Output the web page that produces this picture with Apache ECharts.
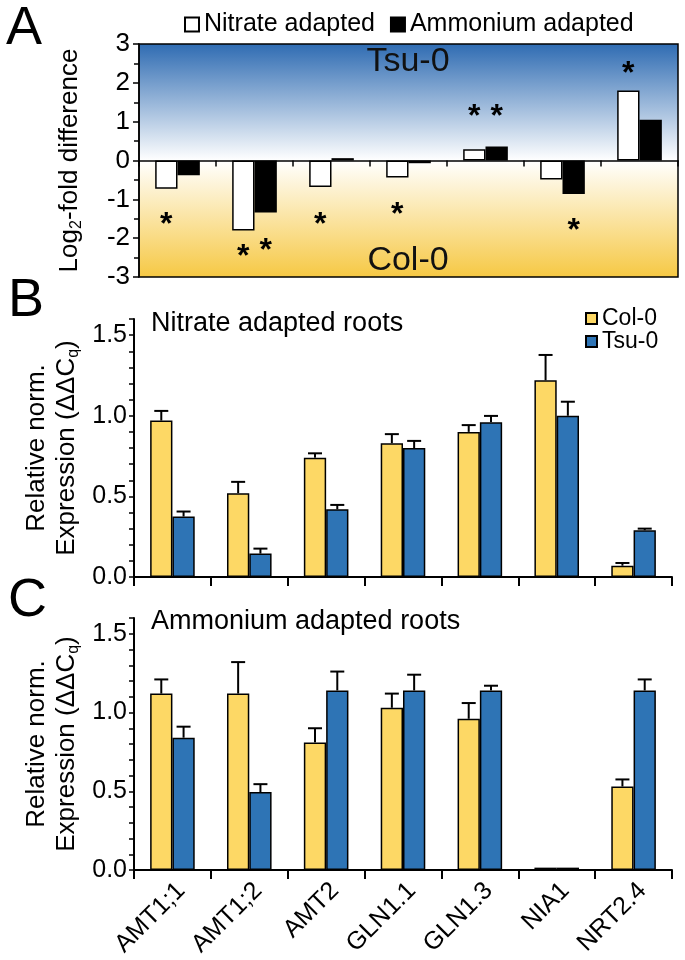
<!DOCTYPE html>
<html><head><meta charset="utf-8">
<script src="https://cdn.jsdelivr.net/npm/echarts@6/dist/echarts.min.js"></script>
<style>html,body{margin:0;padding:0;background:#fff}#c{width:685px;height:960px}</style>
</head><body><div id="c"></div>
<script>
// ---- data ----
const genes = ['AMT1;1','AMT1;2','AMT2','GLN1.1','GLN1.3','NIA1','NRT2.4'];
// Panel A: log2-fold difference (Tsu-0 vs Col-0)
const logNitrate   = [-0.73, -1.80, -0.68, -0.44, 0.29, -0.49, 1.80];
const logAmmonium  = [-0.38, -1.34, 0.06, -0.07, 0.36, -0.86, 1.05];
// asterisk positions (significance marks)
const starNitrate  = [-1.47, -2.28, -1.45, -1.19, 1.31, null, 2.43];
const starAmmonium = [null, -2.12, null, null, 1.31, -1.62, null];
// Panel B: nitrate adapted roots
const nitCol    = [0.97, 0.52, 0.74, 0.83, 0.90, 1.22, 0.07];
const nitColErr = [0.06, 0.07, 0.027, 0.056, 0.042, 0.157, 0.017];
const nitTsu    = [0.375, 0.145, 0.42, 0.80, 0.96, 1.00, 0.29];
const nitTsuErr = [0.031, 0.031, 0.027, 0.044, 0.039, 0.087, 0.01];
// Panel C: ammonium adapted roots
const ammCol    = [1.12, 1.12, 0.81, 1.03, 0.96, 0.015, 0.53];
const ammColErr = [0.09, 0.20, 0.09, 0.09, 0.10, 0, 0.045];
const ammTsu    = [0.84, 0.495, 1.14, 1.14, 1.14, 0.015, 1.14];
const ammTsuErr = [0.07, 0.05, 0.12, 0.10, 0.03, 0, 0.07];

// ---- styling ----
const FONT = "'Liberation Sans', Arial, sans-serif";
const GAP = 0.42;
const YEL = '#FDD865', BLU = '#2E74B5';

function errSeries(gi, vals, errs, sign) {
  return {
    type: 'custom', xAxisIndex: gi, yAxisIndex: gi, z: 5, silent: true,
    data: vals.map((v, k) => [k, v, errs[k]]),
    renderItem(params, api) {
      const k = api.value(0), v = api.value(1), e = api.value(2);
      if (!e) return null;
      const band = api.size([1, 0])[0];
      const bw = band * (1 - GAP) / 2;
      const p0 = api.coord([k, v]);
      const x = p0[0] + sign * bw / 2;
      const y1 = api.coord([k, v + e])[1];
      return { type: 'group', children: [
        { type: 'line', shape: { x1: x, y1: p0[1], x2: x, y2: y1 }, style: { stroke: '#000', lineWidth: 2 } },
        { type: 'line', shape: { x1: x - 7, y1: y1, x2: x + 7, y2: y1 }, style: { stroke: '#000', lineWidth: 2 } }
      ]};
    }
  };
}
function starSeries(vals, sign) {
  return {
    type: 'custom', xAxisIndex: 0, yAxisIndex: 0, z: 6, silent: true,
    data: vals.map((v, k) => [k, v]).filter(d => d[1] !== null),
    renderItem(params, api) {
      const k = api.value(0), v = api.value(1);
      const band = api.size([1, 0])[0];
      const bw = band * (1 - GAP) / 2;
      const p = api.coord([k, v]);
      return { type: 'text', x: p[0] + sign * bw / 2, y: p[1] + 8,
        style: { text: '*', font: 'bold 32px ' + FONT, fill: '#000', align: 'center', verticalAlign: 'middle' } };
    }
  };
}
function barSeries(name, gi, data, color) {
  return { name, type: 'bar', xAxisIndex: gi, yAxisIndex: gi, data,
    barGap: '0%', barCategoryGap: (GAP * 100) + '%',
    itemStyle: { color, borderColor: '#000', borderWidth: 1.5 } };
}
const bgGrad = { type: 'linear', x: 0, y: 0, x2: 0, y2: 1, colorStops: [
  { offset: 0, color: '#2E6BB2' }, { offset: 0.5, color: '#FFFFFF' }, { offset: 1, color: '#F6C843' } ] };

function catAxis(gi, showLabel, tickLen, lw) {
  return { type: 'category', gridIndex: gi, data: genes,
    axisLine: { onZero: true, lineStyle: { color: '#000', width: lw } },
    axisTick: { show: true, interval: 0, length: tickLen, lineStyle: { color: '#000', width: lw } },
    axisLabel: { show: showLabel, interval: 0, rotate: 45, fontSize: 25, color: '#000', fontFamily: FONT, margin: 8,
      verticalAlign: 'top' },
    splitLine: { show: false } };
}
const richName = {
  a: { fontSize: 26, fontFamily: FONT, color: '#000', lineHeight: 30 },
  s: { fontSize: 16, fontFamily: FONT, color: '#000', verticalAlign: 'bottom', lineHeight: 22 }
};
function expAxis(gi) {
  return { type: 'value', gridIndex: gi, min: 0, max: 1.6, interval: 0.1,
    name: '{a|Relative norm.}\n{a|Expression (ΔΔC}{s|q}{a|)}',
    nameLocation: 'middle', nameRotate: 90, nameGap: 46, nameTextStyle: { rich: richName },
    axisLine: { show: true, lineStyle: { color: '#000', width: 2 } },
    axisTick: { show: true, length: 5, lineStyle: { color: '#000', width: 1.5 } },
    axisLabel: { fontSize: 25, color: '#000', fontFamily: FONT, margin: 7,
      formatter: v => (Math.abs(v * 2 - Math.round(v * 2)) < 1e-6 ? v.toFixed(1) : '') },
    splitLine: { show: false } };
}

const chart = echarts.init(document.getElementById('c'), null, { renderer: 'canvas' });
chart.setOption({
  animation: false,
  backgroundColor: '#fff',
  textStyle: { fontFamily: FONT },
  grid: [
    { left: 139, top: 44, width: 539, height: 233, show: true, borderColor: '#000', borderWidth: 1.5, backgroundColor: bgGrad },
    { left: 134, top: 319, width: 538, height: 258 },
    { left: 134, top: 618, width: 538, height: 252 }
  ],
  legend: [
    { data: ['Nitrate adapted', 'Ammonium adapted'], left: 179, top: 7, icon: 'rect', itemWidth: 14, itemHeight: 14, itemGap: 15,
      textStyle: { fontSize: 25, color: '#000', fontFamily: FONT } },
    { data: ['Col-0', 'Tsu-0'], orient: 'vertical', left: 580, top: 302, icon: 'rect', itemWidth: 11, itemHeight: 11, itemGap: 0,
      textStyle: { fontSize: 23, color: '#000', fontFamily: FONT } }
  ],
  xAxis: [ catAxis(0, false, 6, 1.5), catAxis(1, false, 9, 2), catAxis(2, true, 9, 2) ],
  yAxis: [
    { type: 'value', gridIndex: 0, min: -3, max: 3, interval: 1,
      name: '{a|Log}{s|2}{a|-fold difference}', nameLocation: 'middle', nameRotate: 90, nameGap: 54,
      nameTextStyle: { rich: richName },
      axisLine: { show: true, lineStyle: { color: '#000', width: 1.5 } },
      axisTick: { show: true, length: 6, lineStyle: { color: '#000', width: 1.5 } },
      minorTick: { show: true, splitNumber: 2, length: 5, lineStyle: { color: '#000', width: 1.5 } },
      axisLabel: { fontSize: 26, color: '#000', fontFamily: FONT, margin: 9 },
      splitLine: { show: false } },
    expAxis(1), expAxis(2)
  ],
  series: [
    barSeries('Nitrate adapted', 0, logNitrate, '#FFFFFF'),
    barSeries('Ammonium adapted', 0, logAmmonium, '#000000'),
    starSeries(starNitrate, -1),
    starSeries(starAmmonium, 1),
    barSeries('Col-0', 1, nitCol, YEL),
    barSeries('Tsu-0', 1, nitTsu, BLU),
    errSeries(1, nitCol, nitColErr, -1),
    errSeries(1, nitTsu, nitTsuErr, 1),
    barSeries('Col-0', 2, ammCol, YEL),
    barSeries('Tsu-0', 2, ammTsu, BLU),
    errSeries(2, ammCol, ammColErr, -1),
    errSeries(2, ammTsu, ammTsuErr, 1)
  ],
  graphic: [
    { type: 'text', left: 6, top: 2, style: { text: 'A', font: '54px ' + FONT, fill: '#000' } },
    { type: 'text', left: 8, top: 274, style: { text: 'B', font: '54px ' + FONT, fill: '#000' } },
    { type: 'text', left: 8, top: 574, style: { text: 'C', font: '54px ' + FONT, fill: '#000' } },
    { type: 'text', x: 408, y: 62, z: 3, style: { text: 'Tsu-0', font: '34px ' + FONT, fill: '#111', align: 'center', verticalAlign: 'middle' } },
    { type: 'text', x: 408, y: 261, z: 3, style: { text: 'Col-0', font: '34px ' + FONT, fill: '#111', align: 'center', verticalAlign: 'middle' } },
    { type: 'text', x: 151, y: 324, style: { text: 'Nitrate adapted roots', font: '27px ' + FONT, fill: '#000', verticalAlign: 'middle' } },
    { type: 'text', x: 151, y: 622, style: { text: 'Ammonium adapted roots', font: '27px ' + FONT, fill: '#000', verticalAlign: 'middle' } }
  ]
});
</script></body></html>
